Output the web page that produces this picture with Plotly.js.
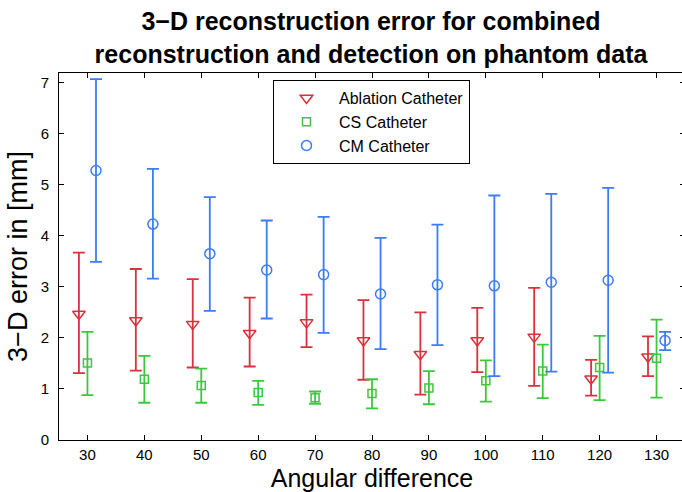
<!DOCTYPE html>
<html>
<head>
<meta charset="utf-8">
<script src="https://cdn.plot.ly/plotly-3.0.1.min.js"></script>
<style>
  html, body { margin: 0; padding: 0; background: #ffffff; overflow: hidden; width: 682px; height: 492px; }
  #chart { width: 685px; height: 492px; }
</style>
</head>
<body>
<div id="chart"></div>
<script>
// Angular difference categories
const angles = [30, 40, 50, 60, 70, 80, 90, 100, 110, 120, 130];
const tickLabels = ['30', '40', '50', '60', '70', '80', '90', '100', '110', '120', '130'];

// Ablation Catheter: mean, upper and lower error-bar ends (mm)
const ablationMean  = [2.47, 2.34, 2.27, 2.09, 2.30, 1.95, 1.68, 1.95, 2.02, 1.20, 1.63];
const ablationUpper = [3.67, 3.35, 3.15, 2.79, 2.85, 2.74, 2.50, 2.59, 2.98, 1.57, 2.03];
const ablationLower = [1.31, 1.36, 1.42, 1.44, 1.82, 1.18, 0.89, 1.33, 1.06, 0.87, 1.25];

// CS Catheter
const csMean  = [1.51, 1.19, 1.07, 0.93, 0.83, 0.91, 1.02, 1.16, 1.35, 1.42, 1.60];
const csUpper = [2.12, 1.65, 1.40, 1.16, 0.95, 1.19, 1.35, 1.56, 1.87, 2.04, 2.36];
const csLower = [0.88, 0.73, 0.73, 0.69, 0.71, 0.62, 0.70, 0.75, 0.82, 0.78, 0.83];

// CM Catheter
const cmMean  = [5.28, 4.23, 3.65, 3.33, 3.24, 2.86, 3.04, 3.02, 3.09, 3.13, 1.95];
const cmUpper = [7.07, 5.31, 4.76, 4.30, 4.37, 3.96, 4.22, 4.79, 4.82, 4.94, 2.12];
const cmLower = [3.49, 3.16, 2.53, 2.38, 2.10, 1.78, 1.86, 1.25, 1.34, 1.32, 1.76];

const seriesNames = ['Ablation Catheter', 'CS Catheter', 'CM Catheter'];
const seriesColors = ['#d8323c', '#3cc83c', '#3c7cf5'];
const seriesSymbols = ['triangle-down-open', 'square-open', 'circle-open'];
const seriesSizes = [11, 8, 10];
const seriesOffsets = [-1.5, 0, 1.5];

const means = [ablationMean, csMean, cmMean];
const uppers = [ablationUpper, csUpper, cmUpper];
const lowers = [ablationLower, csLower, cmLower];

const FONT = '"Liberation Sans", Arial, Helvetica, sans-serif';
const W = 685, H = 492, ML = 59, MR = 0, MT = 73, MB = 52;

const traces = seriesNames.map((name, i) => ({
  type: 'scatter',
  mode: 'markers',
  name: name,
  x: angles.map(a => a + seriesOffsets[i]),
  y: means[i],
  marker: {
    symbol: seriesSymbols[i],
    size: seriesSizes[i],
    color: seriesColors[i],
    line: { width: 1.5, color: seriesColors[i] }
  },
  error_y: {
    type: 'data',
    symmetric: false,
    array: uppers[i].map((u, k) => u - means[i][k]),
    arrayminus: means[i].map((m, k) => m - lowers[i][k]),
    color: seriesColors[i],
    thickness: 1.8,
    width: 6
  },
  hoverinfo: 'x+y+name'
}));

const layout = {
  width: W,
  height: H,
  margin: { l: ML, r: MR, t: MT, b: MB },
  paper_bgcolor: '#ffffff',
  plot_bgcolor: '#ffffff',
  font: { family: FONT, color: '#000000', size: 15 },
  title: {
    text: '3\u2212D reconstruction error for combined<br>reconstruction and detection on phantom data',
    font: { family: FONT, size: 25, color: '#000000', weight: 'bold' },
    x: (ML + (W - ML - MR) / 2 - 1) / W,
    xref: 'container',
    xanchor: 'center',
    y: 1 - 30 / H,
    yref: 'container',
    yanchor: 'middle'
  },
  xaxis: {
    range: [25, 135],
    tickmode: 'array',
    tickvals: angles,
    ticktext: tickLabels,
    ticks: 'inside',
    ticklen: 5,
    tickwidth: 1,
    tickcolor: '#000000',
    showline: true,
    linecolor: '#000000',
    linewidth: 1,
    mirror: 'ticks',
    showgrid: false,
    zeroline: false,
    ticklabelstandoff: 1,
    tickfont: { family: FONT, size: 15, color: '#000000' },
    title: { text: 'Angular difference', font: { family: FONT, size: 25, color: '#000000' }, standoff: 8 }
  },
  yaxis: {
    range: [0, 7.19],
    tickmode: 'linear',
    tick0: 0,
    dtick: 1,
    ticks: 'inside',
    ticklen: 5,
    tickwidth: 1,
    tickcolor: '#000000',
    showline: true,
    linecolor: '#000000',
    linewidth: 1,
    mirror: 'ticks',
    showgrid: false,
    zeroline: false,
    ticklabelstandoff: 6,
    tickfont: { family: FONT, size: 15, color: '#000000' },
    title: { text: '3\u2212D error in [mm]', font: { family: FONT, size: 27, color: '#000000' }, standoff: 5 }
  },
  legend: {
    x: (273 - ML) / (W - ML - MR),
    y: (440 - 80) / (440 - 73),
    xanchor: 'left',
    yanchor: 'top',
    bgcolor: '#ffffff',
    bordercolor: '#000000',
    borderwidth: 1,
    font: { family: FONT, size: 16, color: '#000000' },
    tracegroupgap: 0,
    itemwidth: 55
  },
  showlegend: true
};

Plotly.newPlot('chart', traces, layout, { displayModeBar: false, responsive: false });
</script>
</body>
</html>
